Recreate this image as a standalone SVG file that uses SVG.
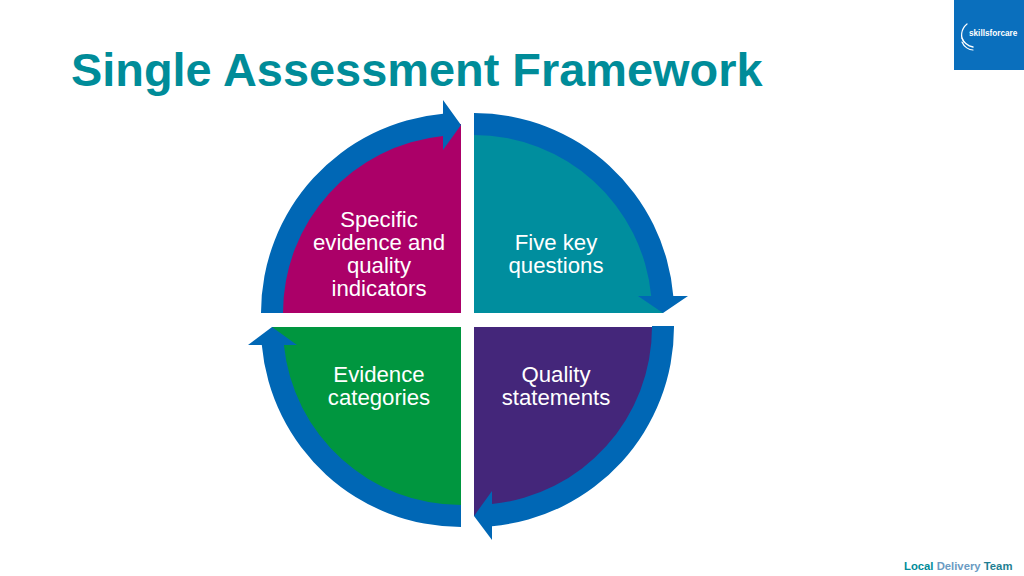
<svg xmlns="http://www.w3.org/2000/svg" width="1024" height="576" viewBox="0 0 1024 576">
<style>
text{font-family:"Liberation Sans",Arial,sans-serif}
.lbl{font-size:22.2px;fill:#fff;text-anchor:middle}
.band{fill:#0067b5}
.f{font-size:11.3px;font-weight:bold}
</style>
<rect width="1024" height="576" fill="#fff"/>
<text id="title" x="71" y="85.5" font-size="46.9" font-weight="bold" fill="#008c99">Single Assessment Framework</text>
<g id="logo">
<rect x="954" y="0" width="70" height="70" fill="#0a6fbd"/>
<g fill="none" stroke="#fff" stroke-linecap="round">
<path d="M967 24C961 29 960 37 964 42" stroke-width="1.2"/>
<path d="M962 38C964 43 968 46 973 47" stroke-width="1.3"/>
<path d="M962 42C964 47 969 50 973 50" stroke-width="1.2"/>
</g>
<text x="969" y="36" font-size="8.2" font-weight="bold" fill="#fff">skillsforcare</text>
</g>
<g id="node-specific">
<path d="M461 313H272A189 189 0 0 1 461 124Z" fill="#ab0068"/>
<text class="lbl" x="379" y="226.500">Specific</text>
<text class="lbl" x="379" y="249.500">evidence and</text>
<text class="lbl" x="379" y="272.500">quality</text>
<text class="lbl" x="379" y="295.500">indicators</text>
</g>
<g id="node-five">
<path d="M474 313H663A189 189 0 0 0 474 124Z" fill="#008e9e"/>
<text class="lbl" x="556" y="249.500">Five key</text>
<text class="lbl" x="556" y="272.500">questions</text>
</g>
<g id="node-quality">
<path d="M474 327H663A189 189 0 0 1 474 516Z" fill="#44267a"/>
<text class="lbl" x="556" y="381.500">Quality</text>
<text class="lbl" x="556" y="404.500">statements</text>
</g>
<g id="node-evidence">
<path d="M461 327H272A189 189 0 0 0 461 516Z" fill="#00963f"/>
<text class="lbl" x="379" y="381.500">Evidence</text>
<text class="lbl" x="379" y="404.500">categories</text>
</g>
<g id="connectors">
<path class="band" d="M261 313A200 200 0 0 1 443 113.8L443 100L461 125L443 150L443 135.9A178 178 0 0 0 283 313Z"/>
<path class="band" d="M474 113A200 200 0 0 1 673.3 296L688 296L663 313L638 296L651.2 296A178 178 0 0 0 474 135Z"/>
<path class="band" d="M674 326L674 327A200 200 0 0 1 492 526.2L492 540L474 516L492 491L492 504.1A178 178 0 0 0 652 327L652 326Z"/>
<path class="band" d="M461 527A200 200 0 0 1 261.8 345L248 345L272 327L297 345L283.9 345A178 178 0 0 0 461 505Z"/>
</g>
<text id="footer" class="f" x="904" y="570"><tspan fill="#008c99">Local</tspan><tspan fill="#6b9bc3"> Delivery</tspan><tspan fill="#1f7f92"> Team</tspan></text>
</svg>
